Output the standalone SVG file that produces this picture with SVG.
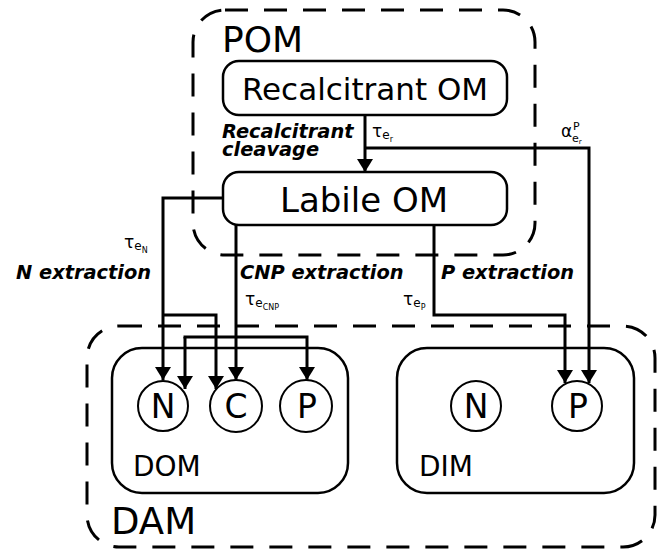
<svg xmlns="http://www.w3.org/2000/svg" width="664" height="549" viewBox="0 0 664 549">
<style>
text{font-family:"DejaVu Sans","Liberation Sans",sans-serif;fill:#000}
.box{fill:#fff;stroke:#000;stroke-width:2.5}
.dash{fill:none;stroke:#000;stroke-width:3;stroke-dasharray:23 16}
.circ{fill:#fff;stroke:#000;stroke-width:2}
.lbl{font-weight:bold;font-style:italic;font-size:19.4px}
.sym{font-size:17px}
.con{fill:none;stroke:#000;stroke-width:3}
</style>
<defs>
<marker id="arr" viewBox="0 0 13 16" refX="13" refY="8" markerWidth="13" markerHeight="16" markerUnits="userSpaceOnUse" orient="auto">
<path d="M0,0 L13,8 L0,16 z" fill="#000"/>
</marker>
</defs>
<rect fill="#fff" x="0" y="0" width="664" height="549"/>
<g id="POM">
<rect class="dash" x="193" y="10" width="342" height="245" rx="32"/>
<text x="222" y="52" font-size="36">POM</text>
</g>
<g id="DAM">
<rect class="dash" x="87" y="326" width="568" height="221" rx="32"/>
<text x="111" y="534" font-size="37">DAM</text>
</g>
<g id="recalcitrant">
<rect class="box" x="223" y="61" width="284" height="54" rx="16"/>
<text x="365" y="100" font-size="31" text-anchor="middle">Recalcitrant OM</text>
</g>
<g id="labile">
<rect class="box" x="223" y="172" width="284" height="53" rx="16"/>
<text x="364" y="212" font-size="34" text-anchor="middle">Labile OM</text>
</g>
<g id="DOM">
<rect class="box" x="112" y="348" width="236" height="145" rx="30"/>
<text x="133" y="476" font-size="28">DOM</text>
</g>
<g id="DIM">
<rect class="box" x="397" y="348" width="237" height="145" rx="30"/>
<text x="419" y="476" font-size="28">DIM</text>
</g>
<g id="DOM_N"><circle class="circ" cx="163" cy="406" r="25"/><text x="163" y="418" font-size="33" text-anchor="middle">N</text></g>
<g id="DOM_C"><circle class="circ" cx="236" cy="406" r="26"/><text x="236" y="418" font-size="33" text-anchor="middle">C</text></g>
<g id="DOM_P"><circle class="circ" cx="306" cy="406" r="26"/><text x="307" y="418" font-size="33" text-anchor="middle">P</text></g>
<g id="DIM_N"><circle class="circ" cx="476" cy="406" r="25"/><text x="476" y="418" font-size="33" text-anchor="middle">N</text></g>
<g id="DIM_P"><circle class="circ" cx="577" cy="406" r="25"/><text x="578" y="418" font-size="33" text-anchor="middle">P</text></g>
<g id="connectors">
<path class="con" d="M365,115 V172" marker-end="url(#arr)"/>
<path class="con" d="M365,148 H589 V383" marker-end="url(#arr)"/>
<path class="con" d="M223,198 H163 V380" marker-end="url(#arr)"/>
<path class="con" d="M163,315 H216 V389" marker-end="url(#arr)"/>
<path class="con" d="M236,225 V380" marker-end="url(#arr)"/>
<path class="con" d="M185,337 V389" marker-end="url(#arr)"/>
<path class="con" d="M183.5,337 H307 V380" marker-end="url(#arr)"/>
<path class="con" d="M434,225 V315 H565 V383" marker-end="url(#arr)"/>
</g>
<g id="labels">
<text class="lbl" x="222" y="138">Recalcitrant</text>
<text class="lbl" x="222" y="156">cleavage</text>
<text class="lbl" x="16" y="279">N extraction</text>
<text class="lbl" x="240" y="279">CNP extraction</text>
<text class="lbl" x="441" y="279">P extraction</text>
<text class="sym" x="372" y="137">τ<tspan font-size="12" dy="2">e</tspan><tspan font-size="8" dy="3">r</tspan></text>
<text class="sym" x="124" y="248">τ<tspan font-size="12" dy="2">e</tspan><tspan font-size="8" dy="3">N</tspan></text>
<text class="sym" x="245" y="305">τ<tspan font-size="12" dy="2">e</tspan><tspan font-size="8" dy="3">CNP</tspan></text>
<text class="sym" x="403" y="305">τ<tspan font-size="12" dy="2">e</tspan><tspan font-size="8" dy="3">P</tspan></text>
<text class="sym" x="561" y="137">α</text>
<text font-size="11" x="573" y="130">P</text>
<text font-size="11" x="572" y="142">e<tspan font-size="7" dy="2">r</tspan></text>
</g>
</svg>
